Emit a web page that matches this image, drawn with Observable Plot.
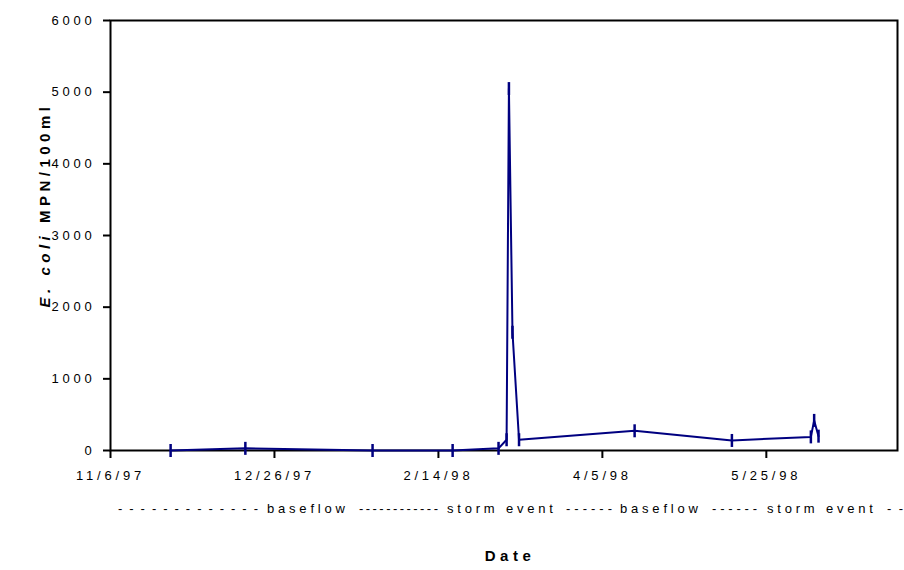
<!DOCTYPE html>
<html>
<head>
<meta charset="utf-8">
<script src="https://cdn.jsdelivr.net/npm/d3@7"></script>
<script src="https://cdn.jsdelivr.net/npm/@observablehq/plot@0.6"></script>
<style>
  body { margin: 0; background: #fff; }
  #chart svg { font-family: "Liberation Sans", Arial, sans-serif; }
  #chart svg text { letter-spacing: 3.8px; }
</style>
</head>
<body>
<div id="chart"></div>
<script>
// Sampling dates (UTC) and E. coli counts (MPN/100ml)
const sampleDates = [
  "1997-11-24T08:00Z", "1997-12-17T03:00Z", "1998-01-24T22:00Z", "1998-02-18T08:00Z",
  "1998-03-04T08:00Z", "1998-03-06T19:00Z", "1998-03-07T12:00Z", "1998-03-08T14:00Z",
  "1998-03-10T14:00Z", "1998-04-14T20:00Z", "1998-05-14T12:00Z", "1998-06-07T14:00Z",
  "1998-06-08T14:00Z", "1998-06-09T22:00Z"
];
const ecoli = [0, 30, 0, 0, 30, 150, 5050, 1650, 150, 275, 140, 190, 420, 200];

// Axes
const xDomain = ["1997-11-06T00:00Z", "1998-07-04T00:00Z"];
const xTickDates = ["1997-11-06T00:00Z", "1997-12-26T00:00Z", "1998-02-14T00:00Z", "1998-04-05T00:00Z", "1998-05-25T00:00Z"];
const yTicks = [0, 1000, 2000, 3000, 4000, 5000, 6000];
const yDomain = [0, 6000];

// Text
const yTitleItalic = "E. coli";
const yTitleRest = " MPN/100ml";
const xTitle = "Date";
const periodDashes = ["-------------", "------------", "------", "------", "--"];
const periodLabels = ["baseflow", "storm event", "baseflow", "storm event"];

const data = sampleDates.map((d, i) => ({date: d3.isoParse(d), value: ecoli[i]}));
const fmt = d3.utcFormat("%-m/%-d/%y");

const bar = {
  draw(context) {
    context.moveTo(0, -6.5);
    context.lineTo(0, 6.5);
  }
};

const navy = "#000080";

const chart = Plot.plot({
  width: 904,
  height: 570,
  marginLeft: 110,
  marginRight: 7,
  marginTop: 20,
  marginBottom: 120,
  style: {fontSize: "13px", color: "#000", background: "#fff"},
  x: {type: "utc", domain: xDomain.map(d3.isoParse)},
  y: {domain: yDomain},
  marks: [
    Plot.axisX({
      ticks: xTickDates.map(d3.isoParse), tickFormat: fmt, tickSize: 8, tickPadding: 12,
      strokeWidth: 2, label: null, fontSize: 13
    }),
    Plot.axisY({
      ticks: yTicks, tickFormat: d => String(d), tickSize: 7, tickPadding: 8,
      strokeWidth: 2, label: null, fontSize: 13
    }),
    Plot.frame({stroke: "#000", strokeWidth: 2}),
    Plot.line(data, {x: "date", y: "value", stroke: navy, strokeWidth: 2}),
    Plot.dot(data, {x: "date", y: "value", symbol: bar, r: 4, stroke: navy, strokeWidth: 2.5, fill: "none"})
  ]
});

const svg = d3.select(chart);

// Y title
const yt = svg.append("text")
  .attr("transform", "translate(50,205) rotate(-90)")
  .attr("text-anchor", "middle")
  .attr("font-weight", "bold")
  .attr("font-size", 15)
  .style("letter-spacing", "4.5px")
  .attr("fill", "#000");
yt.append("tspan").attr("font-style", "italic").text(yTitleItalic);
yt.append("tspan").text(yTitleRest);

// Period annotation line: dash groups stretched to their spans, words placed after them
const dashSpans = [[118, 258], [359, 438], [566, 612], [712, 757], [887, 903]];
const wordX = [267, 447, 620, 767];
const pt = svg.append("text")
  .attr("y", 513)
  .attr("text-anchor", "start")
  .attr("font-size", 13)
  .attr("fill", "#000");
periodDashes.forEach((p, i) => {
  pt.append("tspan")
    .attr("x", dashSpans[i][0])
    .attr("textLength", dashSpans[i][1] - dashSpans[i][0])
    .attr("lengthAdjust", "spacing")
    .style("letter-spacing", "0px")
    .text(p);
  if (i < periodLabels.length) {
    pt.append("tspan").attr("x", wordX[i]).style("letter-spacing", "3.8px").text(periodLabels[i]);
  }
});

// X title
svg.append("text")
  .attr("x", 510)
  .attr("y", 561)
  .attr("text-anchor", "middle")
  .attr("font-weight", "bold")
  .attr("font-size", 15)
  .style("letter-spacing", "4.5px")
  .attr("fill", "#000")
  .text(xTitle);

document.getElementById("chart").append(chart);
</script>
</body>
</html>
